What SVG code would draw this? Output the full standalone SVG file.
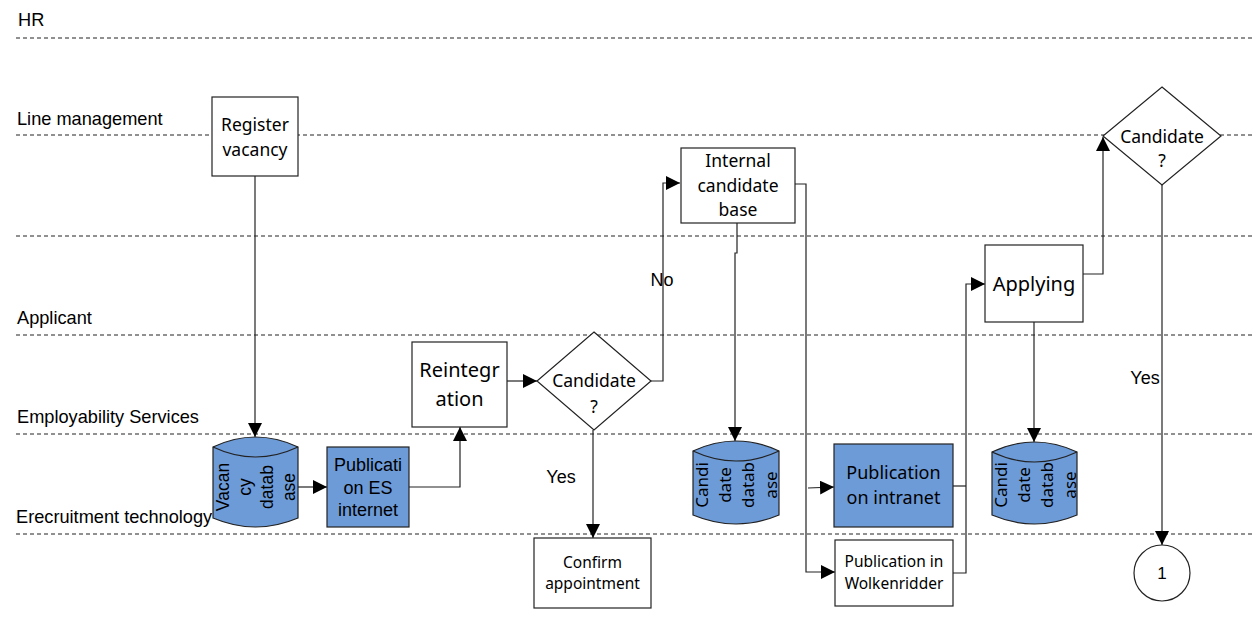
<svg xmlns="http://www.w3.org/2000/svg" width="1252" height="628" viewBox="0 0 1252 628">
  <style>
    .lane { stroke: #222; stroke-width: 1; stroke-dasharray: 4 3; fill: none; }
    .lane-label { font-family: "Liberation Sans", Arial, sans-serif; font-size: 18.2px; fill: #000; }
    .box { fill: #fff; stroke: #222; stroke-width: 1.2; }
    .blue { fill: #6d9bd8; stroke: #222; stroke-width: 1.2; }
    .txt { font-family: "Noto Sans", "Open Sans", sans-serif; fill: #000; text-anchor: middle; }
    .arial { font-family: "Liberation Sans", Arial, sans-serif; fill: #000; text-anchor: middle; }
    .conn { fill: none; stroke: #222; stroke-width: 1.2; }
    .cond { font-family: "Liberation Sans", Arial, sans-serif; font-size: 18px; fill: #000; text-anchor: middle; }
  </style>
  <defs>
    <marker id="arrow" markerUnits="userSpaceOnUse" markerWidth="14" markerHeight="14" viewBox="0 0 12 12" refX="12" refY="6" orient="auto">
      <path d="M0,0 L12,6 L0,12 Z" fill="#000"/>
    </marker>
  </defs>

  <rect width="1252" height="628" fill="#fff"/>

  <!-- swimlanes -->
  <g id="lanes">
    <line class="lane" x1="16" y1="38" x2="1252" y2="38"/>
    <line class="lane" x1="16" y1="135" x2="1252" y2="135"/>
    <line class="lane" x1="16" y1="236" x2="1252" y2="236"/>
    <line class="lane" x1="16" y1="335" x2="1252" y2="335"/>
    <line class="lane" x1="16" y1="434" x2="1252" y2="434"/>
    <line class="lane" x1="16" y1="534" x2="1252" y2="534"/>
    <text class="lane-label" x="18" y="26">HR</text>
    <text class="lane-label" x="17" y="125">Line management</text>
    <text class="lane-label" x="17" y="324">Applicant</text>
    <text class="lane-label" x="17" y="423">Employability Services</text>
    <text class="lane-label" x="16" y="523">Erecruitment technology</text>
  </g>

  <!-- connectors -->
  <g id="connectors">
    <path class="conn" d="M255,176 V437" marker-end="url(#arrow)"/>
    <path class="conn" d="M298,487 H327" marker-end="url(#arrow)"/>
    <path class="conn" d="M409,487 H460 V427" marker-end="url(#arrow)"/>
    <path class="conn" d="M507,381 H537" marker-end="url(#arrow)"/>
    <path class="conn" d="M651,381 H663 V183 H680" marker-end="url(#arrow)"/>
    <path class="conn" d="M593,430 V538" marker-end="url(#arrow)"/>
    <path class="conn" d="M737,223 V253 H735 V441" marker-end="url(#arrow)"/>
    <path class="conn" d="M795,184 H806 V572 H835" marker-end="url(#arrow)"/>
    <path class="conn" d="M808,488 L834,487" marker-end="url(#arrow)"/>
    <path class="conn" d="M953,486 H966"/>
    <path class="conn" d="M953,573 H966 V284 H985" marker-end="url(#arrow)"/>
    <path class="conn" d="M1034,322 V442" marker-end="url(#arrow)"/>
    <path class="conn" d="M1083,274 H1103 V137" marker-end="url(#arrow)"/>
    <path class="conn" d="M1162,185 V545" marker-end="url(#arrow)"/>
    <text class="cond" x="662" y="286">No</text>
    <text class="cond" x="561" y="483">Yes</text>
    <text class="cond" x="1145" y="384">Yes</text>
  </g>

  <!-- nodes -->
  <g id="register-vacancy">
    <rect class="box" x="212" y="97" width="86" height="79"/>
    <text class="txt" font-size="17.5" x="255" y="131">Register</text>
    <text class="txt" font-size="17.5" x="255" y="156">vacancy</text>
  </g>

  <g id="vacancy-database">
    <path class="blue" d="M213,447 Q255.5,427 298,447 V518 Q255.5,536 213,518 Z"/>
    <path class="conn" d="M213,447 Q255.5,467 298,447"/>
    <g transform="translate(255.5,487) rotate(-90)">
      <text class="arial" font-size="17.5" x="0" y="-27">Vacan</text>
      <text class="arial" font-size="17.5" x="0" y="-5">cy</text>
      <text class="arial" font-size="17.5" x="0" y="17">datab</text>
      <text class="arial" font-size="17.5" x="0" y="39">ase</text>
    </g>
  </g>

  <g id="publication-es-internet">
    <rect class="blue" x="327" y="447" width="82" height="80"/>
    <text class="arial" font-size="18" x="368" y="471">Publicati</text>
    <text class="arial" font-size="18" x="368" y="494">on ES</text>
    <text class="arial" font-size="18" x="368" y="516">internet</text>
  </g>

  <g id="reintegration">
    <rect class="box" x="412" y="342" width="95" height="85"/>
    <text class="txt" font-size="20" x="459.5" y="377">Reintegr</text>
    <text class="txt" font-size="20" x="459.5" y="406">ation</text>
  </g>

  <g id="candidate-decision-1">
    <polygon class="box" points="594,332 651,381 594,430 537,381"/>
    <text class="txt" font-size="17.5" x="594" y="387">Candidate</text>
    <text class="txt" font-size="17.5" x="594" y="413">?</text>
  </g>

  <g id="confirm-appointment">
    <rect class="box" x="534" y="538" width="117" height="70"/>
    <text class="txt" font-size="15.5" x="592.5" y="568">Confirm</text>
    <text class="txt" font-size="15.5" x="592.5" y="589">appointment</text>
  </g>

  <g id="internal-candidate-base">
    <rect class="box" x="681" y="148" width="114" height="75"/>
    <text class="txt" font-size="17.5" x="738" y="167">Internal</text>
    <text class="txt" font-size="17.5" x="738" y="192">candidate</text>
    <text class="txt" font-size="17.5" x="738" y="216">base</text>
  </g>

  <g id="candidate-database-1">
    <path class="blue" d="M693,451 Q736,431 779,451 V515 Q736,533 693,515 Z"/>
    <path class="conn" d="M693,451 Q736,471 779,451"/>
    <g transform="translate(736,485) rotate(-90)">
      <text class="txt" font-size="17" x="0" y="-28">Candi</text>
      <text class="txt" font-size="17" x="0" y="-5">date</text>
      <text class="txt" font-size="17" x="0" y="18">datab</text>
      <text class="txt" font-size="17" x="0" y="41">ase</text>
    </g>
  </g>

  <g id="publication-intranet">
    <rect class="blue" x="834" y="444" width="119" height="83"/>
    <text class="txt" font-size="18" x="893.5" y="479">Publication</text>
    <text class="txt" font-size="18" x="893.5" y="504">on intranet</text>
  </g>

  <g id="publication-wolkenridder">
    <rect class="box" x="835" y="540" width="118" height="66"/>
    <text class="txt" font-size="15.5" x="894" y="567">Publication in</text>
    <text class="txt" font-size="15.5" x="894" y="589">Wolkenridder</text>
  </g>

  <g id="applying">
    <rect class="box" x="985" y="245" width="98" height="77"/>
    <text class="txt" font-size="20" x="1034" y="291">Applying</text>
  </g>

  <g id="candidate-database-2">
    <path class="blue" d="M992,452 Q1034.5,432 1077,452 V515 Q1034.5,533 992,515 Z"/>
    <path class="conn" d="M992,452 Q1034.5,472 1077,452"/>
    <g transform="translate(1034.5,485) rotate(-90)">
      <text class="txt" font-size="17" x="0" y="-28">Candi</text>
      <text class="txt" font-size="17" x="0" y="-5">date</text>
      <text class="txt" font-size="17" x="0" y="18">datab</text>
      <text class="txt" font-size="17" x="0" y="41">ase</text>
    </g>
  </g>

  <g id="candidate-decision-2">
    <polygon class="box" points="1162,87 1221,136 1162,185 1103,136"/>
    <text class="txt" font-size="17.5" x="1162" y="143">Candidate</text>
    <text class="txt" font-size="17.5" x="1162" y="167">?</text>
  </g>

  <g id="connector-1">
    <circle class="box" cx="1162" cy="573" r="28"/>
    <text class="arial" font-size="17" x="1162" y="579">1</text>
  </g>
</svg>
